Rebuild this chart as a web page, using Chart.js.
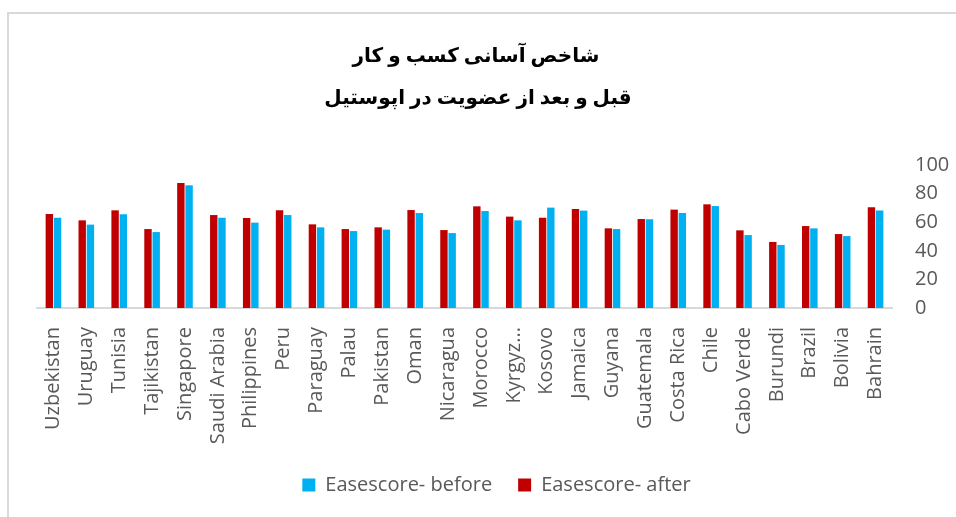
<!DOCTYPE html>
<html>
<head>
<meta charset="utf-8">
<script src="https://cdn.jsdelivr.net/npm/chart.js@4"></script>
<style>
  html, body { margin: 0; padding: 0; background: #ffffff; }
  #wrap { position: relative; width: 956px; height: 517px; }
</style>
</head>
<body>
<div id="wrap"><canvas id="c" width="956" height="517"></canvas></div>
<script>
const titleLines = ["شاخص آسانی کسب و کار", "قبل و بعد از عضویت در اپوستیل"];
const categories = ["Uzbekistan","Uruguay","Tunisia","Tajikistan","Singapore","Saudi Arabia","Philippines","Peru","Paraguay","Palau","Pakistan","Oman","Nicaragua","Morocco","Kyrgyz...","Kosovo","Jamaica","Guyana","Guatemala","Costa Rica","Chile","Cabo Verde","Burundi","Brazil","Bolivia","Bahrain"];
const afterValues  = [65.7,61.3,68.3,55.2,87.4,65.0,62.9,68.3,58.5,55.2,56.4,68.5,54.5,71.1,63.9,63.1,69.2,55.7,62.2,68.8,72.5,54.3,46.2,57.3,51.7,70.4];
const beforeValues = [63.1,58.3,65.5,53.1,85.8,63.1,59.7,65.0,56.4,53.8,54.8,66.4,52.4,67.8,61.3,70.2,68.1,55.2,62.0,66.4,71.3,51.0,44.1,55.7,50.3,68.1];
const yTicks = [0,20,40,60,80,100];
const seriesNames = ["Easescore- after", "Easescore- before"];

const frame = {
  id: 'frame',
  beforeDraw(chart) {
    const ctx = chart.ctx;
    ctx.save();
    ctx.fillStyle = '#ffffff';
    ctx.fillRect(0, 0, chart.width, chart.height);
    ctx.strokeStyle = '#d9d9d9';
    ctx.lineWidth = 2;
    ctx.strokeRect(8, 13, 1000, 1000);
    ctx.restore();
  },
  afterDraw(chart) {
    const ctx = chart.ctx;
    ctx.save();
    ctx.fillStyle = '#000000';
    ctx.font = "bold 20px 'Liberation Serif', 'DejaVu Sans', serif";
    ctx.textAlign = 'center';
    ctx.textBaseline = 'middle';
    ctx.fillText(titleLines[0], 476, 57);
    ctx.fillText(titleLines[1], 478, 99);
    ctx.restore();
  }
};

new Chart(document.getElementById('c'), {
  type: 'bar',
  data: {
    labels: categories,
    datasets: [
      { label: seriesNames[0], data: afterValues, backgroundColor: '#C00000' },
      { label: seriesNames[1], data: beforeValues, backgroundColor: '#00B0F0' }
    ]
  },
  options: {
    responsive: false,
    animation: false,
    devicePixelRatio: 1,
    layout: { padding: { left: 37, right: 0, top: 165, bottom: 12 } },
    datasets: { bar: { categoryPercentage: 0.5, barPercentage: 0.9 } },
    plugins: {
      title: { display: false },
      legend: {
        position: 'bottom',
        reverse: true,
        labels: {
          color: '#595959',
          font: { family: "'Open Sans', sans-serif", size: 20 },
          boxWidth: 13, boxHeight: 13, padding: 26
        }
      },
      tooltip: { enabled: false }
    },
    scales: {
      x: {
        afterFit(scale) { scale.height = 141; },
        grid: { display: false },
        border: { display: true, color: '#d9d9d9', width: 2 },
        ticks: {
          color: '#595959',
          font: { family: "'Open Sans', sans-serif", size: 20 },
          autoSkip: false, maxRotation: 90, minRotation: 90, padding: 11
        }
      },
      y: {
        position: 'right',
        min: 0, max: 100,
        afterBuildTicks(scale) { scale.ticks = yTicks.map(v => ({ value: v })); },
        afterFit(scale) { scale.width = 64; },
        grid: { display: false },
        border: { display: false },
        ticks: {
          color: '#595959',
          font: { family: "'Open Sans', sans-serif", size: 20 },
          padding: 15
        }
      }
    }
  },
  plugins: [frame]
});
</script>
</body>
</html>
